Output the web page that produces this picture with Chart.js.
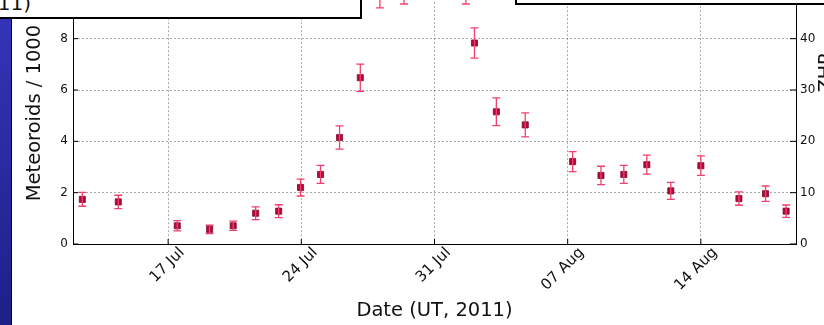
<!DOCTYPE html>
<html>
<head>
<meta charset="utf-8">
<script src="https://cdn.jsdelivr.net/npm/chart.js@4.4.0/dist/chart.umd.min.js"></script>
<style>
  body { margin: 0; background: #fff; overflow: hidden; }
  #wrap { position: relative; width: 824px; height: 325px; overflow: hidden; background: #fff; }
  #chartBox { position: absolute; left: 0; top: -30px; width: 824px; height: 355px; }
  #blueBar { position: absolute; left: 0; top: 18px; width: 11px; height: 307px;
    background: linear-gradient(#3434b8, #1f1f88); border-right: 1px solid #000; }
  #leftBox { position: absolute; left: -4px; top: -4px; width: 362px; height: 19px;
    background: #fff; border: 2px solid #000; }
  #leftText { position: absolute; right: 793px; top: -9px; line-height: 20px; white-space: nowrap;
    font: 20px "DejaVu Sans", sans-serif; color: #111; }
  #rightBox { position: absolute; left: 515px; top: -10px; width: 320px; height: 11px;
    background: #fff; border: 2px solid #000; }
</style>
</head>
<body>
<div id="wrap">
  <div id="chartBox"><canvas id="meteorChart"></canvas></div>
  <div id="blueBar"></div>
  <div id="leftBox"></div>
  <div id="leftText">(UT, 2011)</div>
  <div id="rightBox"></div>
</div>
<script>
// day of the observation, counted in days from 1 July 2011 (so 32 = 1 Aug)
const days = [12.49, 14.38, 17.48, 19.18, 20.42, 21.6, 22.81, 23.96, 25.01, 26.01, 27.1,
  28.13, 29.4, 32.65, 33.1, 34.25, 35.77, 38.26, 39.75, 40.95, 42.16, 43.42, 45.0, 47.0, 48.4, 49.48];
// meteoroids / 1000
const meteoroids = [1.74, 1.64, 0.71, 0.57, 0.71, 1.2, 1.28, 2.2, 2.71, 4.15, 6.48,
  9.9, 10.1, 10.0, 7.83, 5.15, 4.64, 3.21, 2.67, 2.71, 3.09, 2.07, 3.05, 1.77, 1.96, 1.28];
const errors = [0.27, 0.26, 0.2, 0.16, 0.18, 0.25, 0.25, 0.33, 0.35, 0.45, 0.53,
  0.7, 0.75, 0.65, 0.59, 0.54, 0.47, 0.39, 0.36, 0.35, 0.37, 0.33, 0.38, 0.26, 0.3, 0.24];

const tickDays = [17, 24, 31, 38, 45];
const tickLabels = ["17 Jul", "24 Jul", "31 Jul", "07 Aug", "14 Aug"];
const leftTicks = [0, 2, 4, 6, 8, 10];
const rightTicks = [0, 10, 20, 30, 40, 50];

const gridColor = "rgba(0,0,0,0.42)";

const errorBars = {
  id: "errorBars",
  afterDatasetsDraw(chart) {
    const { ctx, chartArea, scales } = chart;
    ctx.save();
    ctx.beginPath();
    ctx.rect(chartArea.left, chartArea.top, chartArea.right - chartArea.left, chartArea.bottom - chartArea.top);
    ctx.clip();
    ctx.strokeStyle = "#f2406e";
    ctx.lineWidth = 1.3;
    days.forEach((d, i) => {
      const x = scales.x.getPixelForValue(d);
      const yTop = scales.y.getPixelForValue(meteoroids[i] + errors[i]);
      const yBot = scales.y.getPixelForValue(meteoroids[i] - errors[i]);
      ctx.beginPath();
      ctx.moveTo(x, yTop); ctx.lineTo(x, yBot);
      ctx.moveTo(x - 4, yTop); ctx.lineTo(x + 4, yTop);
      ctx.moveTo(x - 4, yBot); ctx.lineTo(x + 4, yBot);
      ctx.stroke();
    });
    ctx.restore();
  },
  afterDraw(chart) {
    const { ctx, chartArea, scales } = chart;
    ctx.save();
    // small inward ticks like matplotlib
    ctx.strokeStyle = "#000";
    ctx.lineWidth = 1;
    ctx.beginPath();
    leftTicks.forEach(v => {
      const y = scales.y.getPixelForValue(v);
      ctx.moveTo(chartArea.left, y); ctx.lineTo(chartArea.left + 5, y);
    });
    rightTicks.forEach(v => {
      const y = scales.y2.getPixelForValue(v);
      ctx.moveTo(chartArea.right, y); ctx.lineTo(chartArea.right - 6, y);
    });
    tickDays.forEach(v => {
      const x = scales.x.getPixelForValue(v);
      ctx.moveTo(x, chartArea.bottom); ctx.lineTo(x, chartArea.bottom - 5);
    });
    ctx.stroke();
    // right axis title, cut by the window edge
    ctx.translate(827, 102);
    ctx.rotate(-Math.PI / 2);
    ctx.font = '19px "DejaVu Sans"';
    ctx.fillStyle = "#111";
    ctx.textAlign = "center";
    ctx.textBaseline = "middle";
    ctx.fillText("ZHR", 0, 0);
    ctx.restore();
  }
};

const ctx = document.getElementById("meteorChart").getContext("2d");
const meteorChart = new Chart(ctx, {
  type: "scatter",
  data: {
    datasets: [{
      label: "Meteoroids",
      data: days.map((d, i) => ({ x: d, y: meteoroids[i] })),
      pointStyle: "rect",
      pointRadius: 4.3,
      pointBackgroundColor: "#b00a3a",
      pointBorderColor: "#7a0a2a",
      pointBorderWidth: 0.8,
      showLine: false
    }]
  },
  options: {
    responsive: true,
    maintainAspectRatio: false,
    animation: false,
    events: [],
    layout: { padding: { top: 10, left: 0, right: 0, bottom: 0 } },
    plugins: { legend: { display: false }, tooltip: { enabled: false } },
    scales: {
      x: {
        type: "linear",
        min: 12,
        max: 50,
        afterBuildTicks: s => { s.ticks = tickDays.map(v => ({ value: v })); },
        afterFit: s => { s.height = 81; },
        grid: { color: gridColor, drawTicks: false, lineWidth: 0.8 },
        border: { display: true, color: "#000", width: 1, dash: [2, 2] },
        ticks: {
          color: "#111",
          font: { family: "DejaVu Sans", size: 15 },
          minRotation: 45, maxRotation: 45,
          padding: 0,
          labelOffset: 14,
          callback: (v, i) => tickLabels[i]
        },
        title: {
          display: true, text: "Date (UT, 2011)", color: "#111",
          font: { family: "DejaVu Sans", size: 19.5 },
          padding: { top: 0, bottom: 2 }
        }
      },
      y: {
        position: "left",
        min: 0,
        max: 10.2,
        afterBuildTicks: s => { s.ticks = leftTicks.map(v => ({ value: v })); },
        afterFit: s => { s.width = 73; },
        grid: { color: gridColor, drawTicks: false, lineWidth: 0.8 },
        border: { display: true, color: "#000", width: 1, dash: [2, 2] },
        ticks: { color: "#111", font: { family: "DejaVu Sans", size: 12 }, padding: 5 },
        title: {
          display: true, text: "Meteoroids / 1000", color: "#111",
          font: { family: "DejaVu Sans", size: 19.5 },
          padding: { top: 23, bottom: 0 }
        }
      },
      y2: {
        position: "right",
        min: 0,
        max: 51,
        afterBuildTicks: s => { s.ticks = rightTicks.map(v => ({ value: v })); },
        afterFit: s => { s.width = 28; },
        grid: { display: false, drawTicks: false },
        border: { display: true, color: "#000", width: 1 },
        ticks: { color: "#111", font: { family: "DejaVu Sans", size: 12 }, padding: 4 }
      }
    }
  },
  plugins: [errorBars]
});
</script>
</body>
</html>
